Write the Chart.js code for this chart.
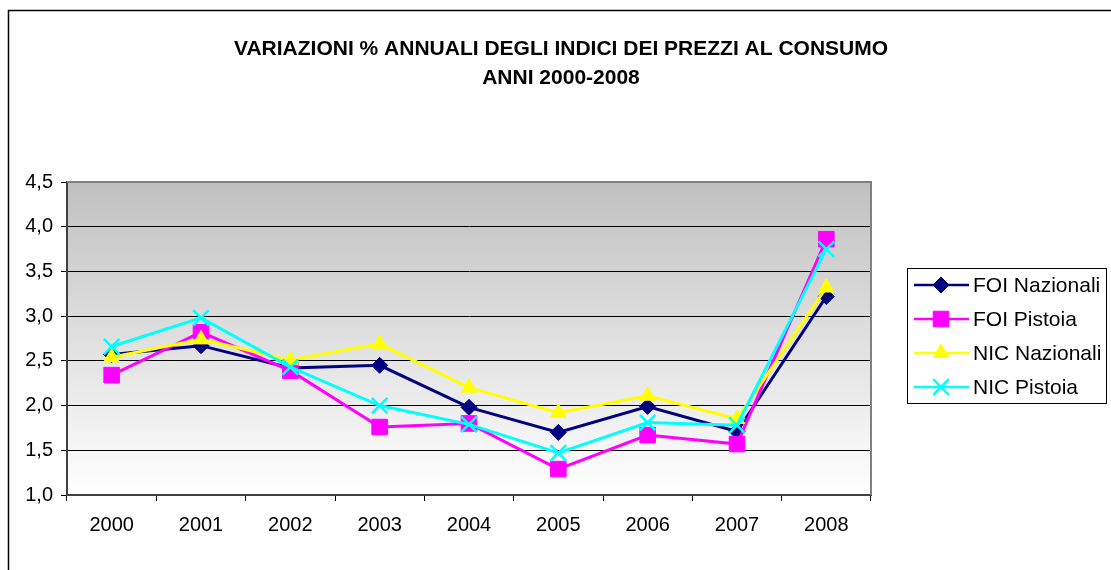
<!DOCTYPE html>
<html>
<head>
<meta charset="utf-8">
<script src="https://cdn.jsdelivr.net/npm/chart.js@4/dist/chart.umd.min.js"></script>
<style>
  html, body { margin: 0; padding: 0; background: #fff; }
  #wrap { position: relative; width: 1111px; height: 570px; }
</style>
</head>
<body>
<div id="wrap"><canvas id="chart"></canvas></div>
<script>
const years = ['2000', '2001', '2002', '2003', '2004', '2005', '2006', '2007', '2008'];
const foiNazionali = [2.57, 2.67, 2.42, 2.45, 1.98, 1.70, 1.99, 1.71, 3.22];
const foiPistoia = [2.34, 2.82, 2.39, 1.76, 1.80, 1.29, 1.67, 1.57, 3.86];
const nicNazionali = [2.54, 2.74, 2.51, 2.69, 2.20, 1.92, 2.11, 1.85, 3.32];
const nicPistoia = [2.66, 2.98, 2.43, 2.00, 1.79, 1.47, 1.81, 1.78, 3.75];
const titleLines = ['VARIAZIONI % ANNUALI DEGLI INDICI DEI PREZZI AL CONSUMO', 'ANNI 2000-2008'];

const FONT = 'Arial, "Liberation Sans", sans-serif';

// frame, plot background, title and legend
const decor = {
  id: 'decor',
  beforeDraw(chart) {
    const ctx = chart.ctx;
    const a = chart.chartArea;
    ctx.save();
    ctx.strokeStyle = '#000';
    ctx.lineWidth = 1.5;
    ctx.strokeRect(8.5, 10.5, 1200, 700);
    const g = ctx.createLinearGradient(0, a.top, 0, a.bottom);
    g.addColorStop(0, '#c0c0c0');
    g.addColorStop(1, '#ffffff');
    ctx.fillStyle = g;
    ctx.fillRect(a.left, a.top, a.right - a.left, a.bottom - a.top);
    ctx.fillStyle = '#000';
    ctx.font = 'bold 21px ' + FONT;
    ctx.textAlign = 'center';
    ctx.textBaseline = 'middle';
    ctx.fillText(titleLines[0], 561, 49);
    ctx.fillText(titleLines[1], 561, 78);
    ctx.restore();
  },
  afterDraw(chart) {
    const ctx = chart.ctx;
    const a = chart.chartArea;
    ctx.save();
    ctx.strokeStyle = '#808080';
    ctx.lineWidth = 2;
    ctx.beginPath();
    ctx.moveTo(a.left, a.top);
    ctx.lineTo(a.right, a.top);
    ctx.lineTo(a.right, a.bottom);
    ctx.stroke();
    ctx.strokeStyle = '#000';
    ctx.lineWidth = 1;
    ctx.strokeRect(907.5, 268.5, 199, 135);
    chart.data.datasets.forEach((ds, i) => {
      const y = 285 + i * 34;
      ctx.strokeStyle = ds.borderColor;
      ctx.lineWidth = 2.5;
      ctx.beginPath();
      ctx.moveTo(914, y);
      ctx.lineTo(969, y);
      ctx.stroke();
      ctx.fillStyle = ds.pointBackgroundColor;
      ctx.strokeStyle = ds.borderColor;
      ctx.lineWidth = ds.pointBorderWidth;
      Chart.helpers.drawPoint(ctx, {pointStyle: ds.pointStyle, radius: ds.pointRadius, borderWidth: ds.pointBorderWidth}, 941, y);
      ctx.fillStyle = '#000';
      ctx.font = '21px ' + FONT;
      ctx.textAlign = 'left';
      ctx.textBaseline = 'middle';
      ctx.fillText(ds.label, 973, y + 1);
    });
    ctx.restore();
  }
};

function series(label, data, color, style, radius, order) {
  return {
    label: label,
    data: data,
    borderColor: color,
    backgroundColor: color,
    pointBackgroundColor: color,
    pointBorderColor: color,
    pointStyle: style,
    pointRadius: radius,
    pointBorderWidth: style === 'crossRot' ? 2.5 : 1,
    borderWidth: 3,
    tension: 0,
    order: order
  };
}

new Chart(document.getElementById('chart'), {
  type: 'line',
  data: {
    labels: years,
    datasets: [
      series('FOI Nazionali', foiNazionali, '#000080', 'rectRot', 8, 4),
      series('FOI Pistoia', foiPistoia, '#ff00ff', 'rect', 11, 3),
      series('NIC Nazionali', nicNazionali, '#ffff00', 'triangle', 9, 2),
      series('NIC Pistoia', nicPistoia, '#00ffff', 'crossRot', 11, 1)
    ]
  },
  options: {
    responsive: true,
    maintainAspectRatio: false,
    animation: false,
    layout: { padding: { top: 182, right: 240, left: 0, bottom: 0 } },
    plugins: { legend: { display: false }, title: { display: false }, tooltip: { enabled: false } },
    scales: {
      x: {
        offset: true,
        afterFit: s => { s.height = 75; },
        grid: { drawOnChartArea: false, drawTicks: true, tickLength: 6, color: '#000', offset: true },
        border: { color: '#404040', width: 2 },
        ticks: { color: '#000', font: { family: FONT, size: 20 }, padding: 12 }
      },
      y: {
        min: 1,
        max: 4.5,
        afterFit: s => { s.width = 67; },
        grid: { color: '#000', lineWidth: 1, tickLength: 6 },
        border: { color: '#404040', width: 2 },
        ticks: {
          stepSize: 0.5,
          color: '#000',
          font: { family: FONT, size: 20 },
          padding: 8,
          callback: v => v.toFixed(1).replace('.', ',')
        }
      }
    }
  },
  plugins: [decor]
});
</script>
</body>
</html>
